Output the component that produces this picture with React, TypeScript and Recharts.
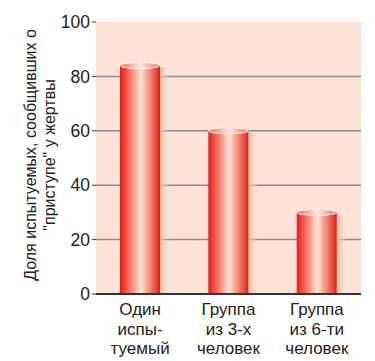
import { BarChart, Bar, XAxis, YAxis, CartesianGrid } from "recharts";

const groups = ["Один\nиспы-\nтуемый", "Группа\nиз 3-х\nчеловек", "Группа\nиз 6-ти\nчеловек"];
const shares = [84, 60, 30];
const yTicks = [0, 20, 40, 60, 80, 100];
const yTitle = ["Доля испытуемых, сообщивших о", "\"приступе\" у жертвы"];

const data = groups.map((g, i) => ({ group: g, share: shares[i] }));

const FONT = "'Liberation Sans', Arial, sans-serif";

const Cylinder = (props: any) => {
  const { x, y, width, height } = props;
  const ry = 3;
  return (
    <g>
      <rect x={x + width} y={y + 2} width={10} height={height - 2} fill="url(#shadowGrad)" />
      <rect x={x} y={y} width={width} height={height} fill="url(#barGrad)" />
      <ellipse cx={x + width / 2} cy={y} rx={width / 2} ry={ry} fill="url(#capGrad)" stroke="#fff3ee" strokeWidth={1} />
    </g>
  );
};

const GroupTick = (props: any) => {
  const { x, y, payload } = props;
  const lines = String(payload.value).split("\n");
  return (
    <text x={x} y={y} textAnchor="middle" fill="#222" fontSize={17} fontFamily={FONT}>
      {lines.map((l, i) => (
        <tspan key={i} x={x} dy={i === 0 ? 13 : 19.5}>
          {l}
        </tspan>
      ))}
    </text>
  );
};

const YTitle = (props: any) => {
  const cy = 147;
  return (
    <g>
      {yTitle.map((t, i) => (
        <text
          key={i}
          x={0}
          y={0}
          transform={`translate(${22 + i * 19}, ${cy}) rotate(-90)`}
          textAnchor="middle"
          dominantBaseline="central"
          fill="#222"
          fontSize={16}
          fontFamily={FONT}
        >
          {t}
        </text>
      ))}
    </g>
  );
};

export default function App() {
  return (
    <BarChart width={367} height={353} data={data} margin={{ top: 14, right: 14, bottom: 0, left: 0 }} barSize={40}>
      <defs>
        <linearGradient id="barGrad" x1="0" y1="0" x2="1" y2="0">
          <stop offset="0%" stopColor="#e3201b" />
          <stop offset="12%" stopColor="#f0453a" />
          <stop offset="35%" stopColor="#f7a08e" />
          <stop offset="52%" stopColor="#fde6da" />
          <stop offset="70%" stopColor="#f49a86" />
          <stop offset="90%" stopColor="#ec4a3c" />
          <stop offset="100%" stopColor="#d81d18" />
        </linearGradient>
        <linearGradient id="capGrad" x1="0" y1="0" x2="1" y2="0">
          <stop offset="0%" stopColor="#f06a5c" />
          <stop offset="50%" stopColor="#fde8de" />
          <stop offset="100%" stopColor="#f07a68" />
        </linearGradient>
        <linearGradient id="shadowGrad" x1="0" y1="0" x2="1" y2="0">
          <stop offset="0%" stopColor="#dcb89a" />
          <stop offset="100%" stopColor="#fde2d8" stopOpacity={0} />
        </linearGradient>
      </defs>
      <CartesianGrid
        vertical={false}
        horizontalValues={[20, 40, 60, 80]}
        stroke="#8a8a8a"
        strokeWidth={1.5}
        fill="#fde2d8"
        fillOpacity={1}
      />
      <XAxis
        dataKey="group"
        height={67}
        interval={0}
        tick={<GroupTick />}
        tickLine={false}
        axisLine={{ stroke: "#333", strokeWidth: 2 }}
      />
      <YAxis
        width={88}
        domain={[0, 100]}
        ticks={yTicks}
        tick={{ fill: "#222", fontSize: 17.5, fontFamily: FONT }}
        tickLine={{ stroke: "#333" }}
        tickSize={4}
        tickMargin={2}
        axisLine={false}
        label={<YTitle />}
      />
      <Bar dataKey="share" shape={<Cylinder />} isAnimationActive={false} />
    </BarChart>
  );
}
